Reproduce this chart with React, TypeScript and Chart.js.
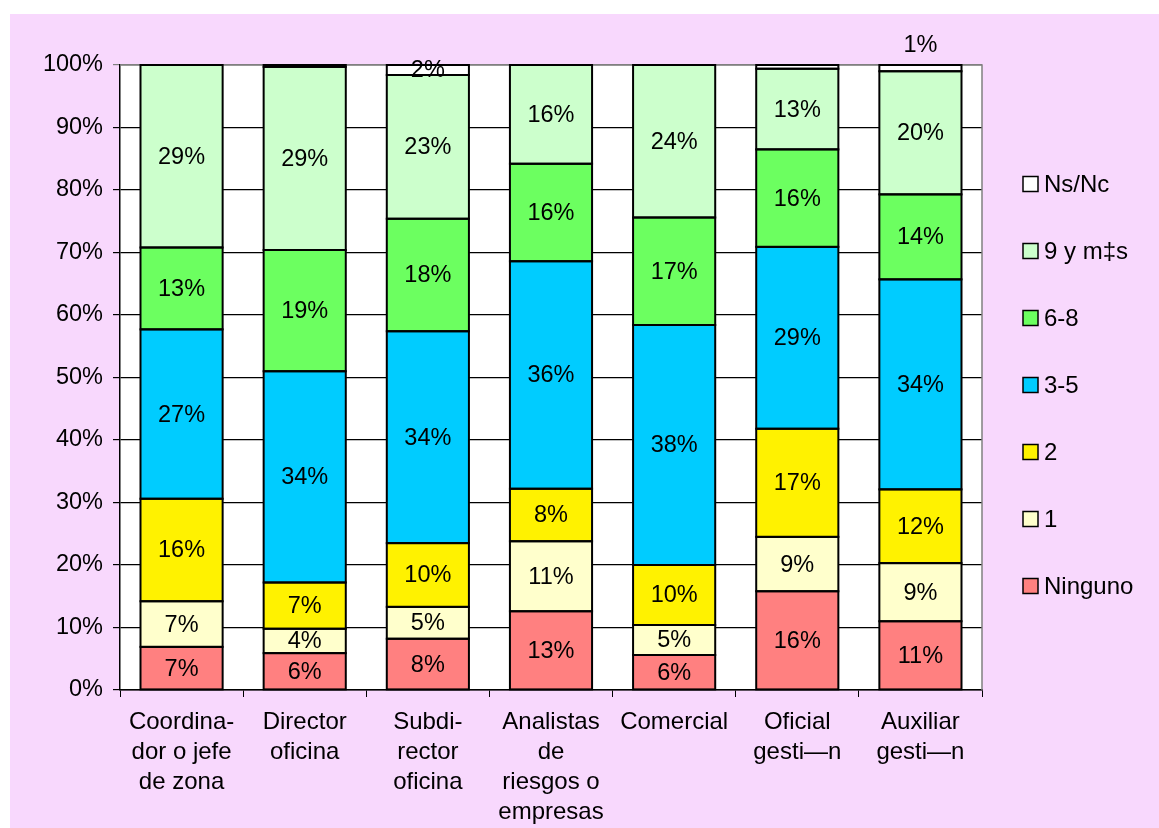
import React, { useEffect, useRef } from "react";
import { Chart, registerables } from "chart.js";

Chart.register(...registerables);

const categories: string[][] = [
  ["Coordina-", "dor o jefe", "de zona"],
  ["Director", "oficina"],
  ["Subdi-", "rector", "oficina"],
  ["Analistas", "de", "riesgos o", "empresas"],
  ["Comercial"],
  ["Oficial", "gesti—n"],
  ["Auxiliar", "gesti—n"],
];

// Percentages per category, stacked bottom to top
const ninguno = [6.9, 5.9, 8.2, 12.6, 5.6, 15.8, 11.0];
const uno = [7.3, 3.9, 5.1, 11.2, 4.8, 8.7, 9.3];
const dos = [16.4, 7.4, 10.2, 8.4, 9.6, 17.3, 11.8];
const tresCinco = [27.1, 33.8, 33.9, 36.4, 38.4, 29.1, 33.6];
const seisOcho = [13.1, 19.4, 18.0, 15.6, 17.2, 15.6, 13.6];
const nueveMas = [29.2, 29.3, 23.0, 15.8, 24.4, 12.9, 19.7];
const nsnc = [0, 0.3, 1.6, 0, 0, 0.6, 1.0];

const seriesNames = ["Ninguno", "1", "2", "3-5", "6-8", "9 y m‡s", "Ns/Nc"];
const seriesValues = [ninguno, uno, dos, tresCinco, seisOcho, nueveMas, nsnc];
const seriesColors = ["#FF8080", "#FFFFCC", "#FFF200", "#00CCFF", "#6CFF60", "#CCFFCC", "#FFFFFF"];

const yTicks = [0, 10, 20, 30, 40, 50, 60, 70, 80, 90, 100];

const FONT = "'Liberation Sans', Arial, sans-serif";

const backgroundPlugin = {
  id: "plotBackground",
  beforeDraw(chart: any) {
    const { ctx, chartArea } = chart;
    ctx.save();
    ctx.fillStyle = "#FFFFFF";
    ctx.fillRect(chartArea.left, chartArea.top, chartArea.right - chartArea.left, chartArea.bottom - chartArea.top);
    ctx.restore();
  },
  beforeDatasetsDraw(chart: any) {
    const { ctx, chartArea } = chart;
    ctx.save();
    ctx.strokeStyle = "#808080";
    ctx.lineWidth = 1.5;
    ctx.beginPath();
    ctx.moveTo(chartArea.left, chartArea.top);
    ctx.lineTo(chartArea.right, chartArea.top);
    ctx.lineTo(chartArea.right, chartArea.bottom);
    ctx.stroke();
    ctx.restore();
  },
};

// Outlines every stacked segment, then writes its rounded percentage
const segmentPlugin = {
  id: "segmentOutlinesAndLabels",
  afterDatasetsDraw(chart: any) {
    const { ctx, chartArea } = chart;
    const sets = chart.data.datasets;
    ctx.save();
    ctx.strokeStyle = "#000";
    ctx.lineWidth = 2;
    sets.forEach((ds: any, di: number) => {
      const meta = chart.getDatasetMeta(di);
      meta.data.forEach((bar: any, i: number) => {
        if (!(ds.data[i] > 0)) return;
        const top = Math.min(bar.y, bar.base);
        const bottom = Math.max(bar.y, bar.base);
        ctx.strokeRect(bar.x - bar.width / 2, top, bar.width, bottom - top);
      });
    });

    ctx.font = `23.5px ${FONT}`;
    ctx.fillStyle = "#000";
    ctx.textAlign = "center";
    ctx.textBaseline = "middle";
    sets.forEach((ds: any, di: number) => {
      const meta = chart.getDatasetMeta(di);
      meta.data.forEach((bar: any, i: number) => {
        const v = ds.data[i];
        if (v < 1) return;
        const top = Math.min(bar.y, bar.base);
        const bottom = Math.max(bar.y, bar.base);
        let y = (top + bottom) / 2;
        // very thin top segments get their label above the plot
        if (bottom - top < 8 && di === sets.length - 1) {
          y = chartArea.top - 20;
        }
        ctx.fillText(`${Math.round(v)}%`, bar.x, y + 1);
      });
    });
    ctx.restore();
  },
};

const legendPlugin = {
  id: "sideLegend",
  afterDraw(chart: any) {
    const { ctx, chartArea } = chart;
    const ds = chart.data.datasets;
    ctx.save();
    ctx.font = `24px ${FONT}`;
    ctx.textAlign = "left";
    ctx.textBaseline = "middle";
    const x = chartArea.right + 41;
    const y0 = chartArea.top + 119;
    for (let k = 0; k < ds.length; k++) {
      const d = ds[ds.length - 1 - k];
      const cy = y0 + k * 67;
      ctx.fillStyle = d.backgroundColor;
      ctx.fillRect(x, cy - 7.5, 15, 15);
      ctx.strokeStyle = "#000";
      ctx.lineWidth = 1.5;
      ctx.strokeRect(x, cy - 7.5, 15, 15);
      ctx.fillStyle = "#000";
      ctx.fillText(d.label, x + 21, cy + 1);
    }
    ctx.restore();
  },
};

export default function App() {
  const canvasRef = useRef<HTMLCanvasElement | null>(null);

  useEffect(() => {
    if (!canvasRef.current) return;
    const chart = new Chart(canvasRef.current, {
      type: "bar",
      data: {
        labels: categories,
        datasets: seriesNames.map((name, i) => ({
          label: name,
          data: seriesValues[i],
          backgroundColor: seriesColors[i],
          borderWidth: 0,
          barPercentage: 0.667,
          categoryPercentage: 1,
        })),
      },
      options: {
        responsive: false,
        animation: false,
        layout: { padding: { left: 0, top: 51, right: 177, bottom: 0 } },
        plugins: {
          legend: { display: false },
          tooltip: { enabled: false },
        },
        scales: {
          x: {
            stacked: true,
            afterFit: (scale: any) => {
              scale.height = 138;
            },
            grid: {
              offset: true,
              drawOnChartArea: false,
              drawTicks: true,
              tickLength: 7,
              color: "#000",
            },
            border: { color: "#000", width: 1.5 },
            ticks: {
              color: "#000",
              font: { family: FONT, size: 24, lineHeight: 1.25 },
              maxRotation: 0,
              autoSkip: false,
              padding: 10,
            },
          },
          y: {
            stacked: true,
            min: 0,
            max: 100,
            afterFit: (scale: any) => {
              scale.width = 110;
            },
            afterBuildTicks: (scale: any) => {
              scale.ticks = yTicks.map((v) => ({ value: v }));
            },
            grid: {
              color: (c: any) => (c.tick && c.tick.value === 100 ? "#808080" : "#000"),
              lineWidth: 1.2,
              tickLength: 7,
            },
            border: { color: "#000", width: 1.5 },
            ticks: {
              color: "#000",
              font: { family: FONT, size: 23.5 },
              padding: 10,
              callback: (v: any) => `${v}%`,
            },
          },
        },
      },
      plugins: [backgroundPlugin, segmentPlugin, legendPlugin],
    });
    return () => chart.destroy();
  }, []);

  return (
    <div
      style={{
        position: "absolute",
        left: 10,
        top: 14,
        width: 1149,
        height: 814,
        background: "#F8D8FD",
      }}
    >
      <canvas ref={canvasRef} width={1149} height={814} style={{ display: "block" }} />
    </div>
  );
}
